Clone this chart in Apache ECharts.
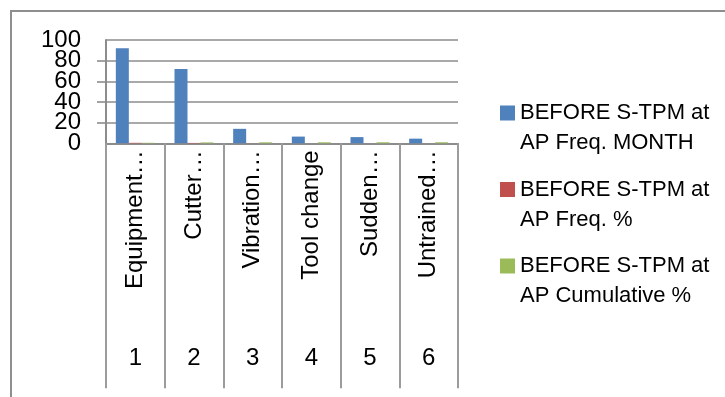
<!DOCTYPE html>
<html>
<head>
<meta charset="utf-8">
<script src="https://cdn.jsdelivr.net/npm/echarts@6/dist/echarts.min.js"></script>
<style>
  html, body { margin: 0; padding: 0; background: #fff; }
  #chart { width: 725px; height: 397px; }
</style>
</head>
<body>
<div id="chart"></div>
<script>
// Failure causes before S-TPM, with their rank number underneath
const causes = ['Equipment…', 'Cutter…', 'Vibration…', 'Tool change', 'Sudden…', 'Untrained…'];
const ranks = ['1', '2', '3', '4', '5', '6'];

const seriesNames = [
  'BEFORE S-TPM at AP Freq. MONTH',
  'BEFORE S-TPM at AP Freq. %',
  'BEFORE S-TPM at AP Cumulative %'
];
const freqMonth = [92, 72, 14, 6.5, 6, 4.5];
const freqPct = [0.47, 0.37, 0.07, 0.03, 0.03, 0.02];
const cumulativePct = [0.47, 0.84, 0.91, 0.94, 0.97, 1.0];

const yTicks = { min: 0, max: 100, interval: 20 };

const colors = ['#4F81BD', '#C0504D', '#9BBB59'];
const FONT = 'Liberation Sans, Arial, sans-serif';
const GRID_GREY = '#8c8c8c';
const SEP_GREY = '#9c9c9c';

const chart = echarts.init(document.getElementById('chart'), null, { renderer: 'canvas' });

// square on the first text line; the tiny point below stretches the icon box
const legendIcon = 'path://M0,0h15v15h-15z M0,44.99h0.01v0.01h-0.01z';

const barSeries = [freqMonth, freqPct, cumulativePct].map((vals, i) => ({
  name: seriesNames[i],
  type: 'bar',
  xAxisIndex: 0,
  yAxisIndex: 0,
  data: vals,
  barWidth: 13,
  barGap: '0%',
  itemStyle: { color: colors[i] }
}));

const yLabelStyle = { margin: 25, fontFamily: FONT, fontSize: 24, color: '#000' };

chart.setOption({
  animation: false,
  backgroundColor: '#fff',
  color: colors,
  graphic: [{
    type: 'polyline',
    shape: { points: [[11, 800], [11, 11], [900, 11]] },
    style: { stroke: '#8e8e8e', lineWidth: 2, fill: null },
    silent: true
  }],
  grid: { left: 106, top: 40, width: 352, height: 103.3, containLabel: false },
  legend: {
    orient: 'vertical',
    left: 495,
    top: 93,
    itemWidth: 15,
    itemHeight: 45,
    itemGap: 16.5,
    icon: legendIcon,
    formatter: name => name.replace(' at ', ' at\n'),
    textStyle: { fontFamily: FONT, fontSize: 22, lineHeight: 30, color: '#000' },
    data: seriesNames
  },
  xAxis: [{
    type: 'category',
    data: causes,
    position: 'bottom',
    axisLine: { show: true, onZero: false, lineStyle: { color: GRID_GREY, width: 2 } },
    axisTick: { show: true, interval: 0, length: 172, lineStyle: { color: SEP_GREY, width: 2 } },
    axisLabel: {
      interval: 0, rotate: 90, margin: 7,
      fontFamily: FONT, fontSize: 24, color: '#000'
    },
    splitLine: { show: false }
  }, {
    type: 'category',
    data: ranks,
    position: 'bottom',
    offset: 172,
    axisLine: { show: false, onZero: false },
    axisTick: { show: true, interval: 0, length: 73, lineStyle: { color: SEP_GREY, width: 2 } },
    axisLabel: { interval: 0, margin: 31, fontFamily: FONT, fontSize: 24, color: '#000' },
    splitLine: { show: false }
  }],
  yAxis: [{
    // main value axis: line, ticks, gridlines and the inner labels (20–80)
    type: 'value',
    min: yTicks.min,
    max: yTicks.max,
    interval: yTicks.interval,
    axisLine: { show: true, onZero: false, lineStyle: { color: GRID_GREY, width: 2 } },
    axisTick: { show: true, length: 9, lineStyle: { color: GRID_GREY, width: 1.6 } },
    axisLabel: Object.assign({ showMinLabel: false, showMaxLabel: false }, yLabelStyle),
    splitLine: { show: true, lineStyle: { color: GRID_GREY, width: 1.6 } }
  }, {
    // same scale, carrying only the end labels (0 and 100)
    type: 'value',
    position: 'left',
    min: yTicks.min,
    max: yTicks.max,
    interval: yTicks.interval,
    axisLine: { show: false, onZero: false },
    axisTick: { show: false },
    splitLine: { show: false },
    axisLabel: Object.assign({
      showMinLabel: true, showMaxLabel: true,
      formatter: v => (v === yTicks.min || v === yTicks.max) ? String(v) : ''
    }, yLabelStyle)
  }],
  series: barSeries
});
</script>
</body>
</html>
